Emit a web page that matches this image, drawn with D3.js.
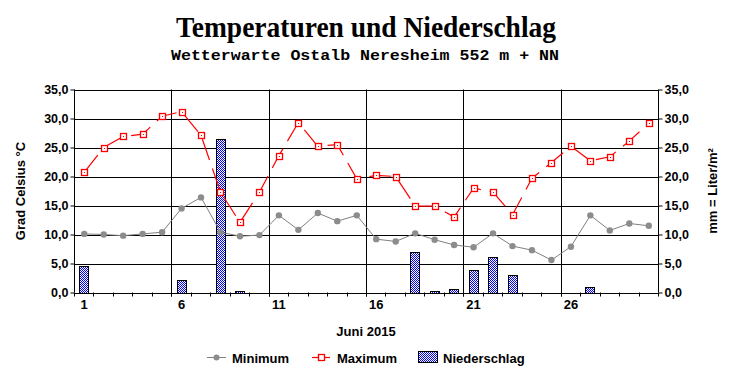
<!DOCTYPE html>
<html><head><meta charset="utf-8">
<script src="https://cdn.jsdelivr.net/npm/d3@7"></script>
<style>body{margin:0;background:#fff}svg{display:block}</style>
</head><body><div id="c"></div>
<script>
const days = d3.range(1, 31);
const dayLabels = [1, 6, 11, 16, 21, 26];
const tempMin = [10.1,10.0,9.8,10.1,10.4,14.5,16.4,10.4,9.7,9.9,13.3,10.8,13.7,12.3,13.3,9.2,8.8,10.2,9.1,8.2,7.8,10.2,8.0,7.3,5.6,7.9,13.3,10.7,11.9,11.5];
const tempMax = [20.7,25.0,26.9,27.3,30.4,31.2,27.1,17.3,12.1,17.3,23.6,29.3,25.2,25.5,19.6,20.2,20.0,14.9,14.9,13.0,18.0,17.3,13.4,19.7,22.4,25.2,22.7,23.4,26.1,29.2];
const precip = [4.6,0,0,0,0,2.2,0,26.4,0.2,0,0,0,0,0,0,0,0,7.0,0.3,0.6,3.9,6.1,3.1,0,0,0,1.0,0,0,0];
const yTicks = [0,5,10,15,20,25,30,35];
const title = "Temperaturen und Niederschlag";
const subtitle = "Wetterwarte Ostalb Neresheim 552 m + NN";
const xTitle = "Juni 2015";
const yLeftTitle = "Grad Celsius °C";
const yRightTitle = "mm = Liter/m²";
const legendNames = ["Minimum", "Maximum", "Niederschlag"];

const W = 732, H = 380;
const L = 74.5, R = 658.5, T = 89.5, B = 292.5;
const svg = d3.select("#c").append("svg").attr("width", W).attr("height", H);
const font = "'Liberation Sans', Arial, sans-serif";

const defs = svg.append("defs");
const pat = defs.append("pattern").attr("id","dots").attr("patternUnits","userSpaceOnUse")
  .attr("x",0).attr("y",0).attr("width",2).attr("height",2);
pat.append("rect").attr("width",2).attr("height",2).attr("fill","#ffffff").attr("shape-rendering","crispEdges");
pat.append("rect").attr("x",0).attr("y",0).attr("width",1).attr("height",1).attr("fill","#0000ff").attr("shape-rendering","crispEdges");
pat.append("rect").attr("x",1).attr("y",1).attr("width",1).attr("height",1).attr("fill","#0000ff").attr("shape-rendering","crispEdges");

const x = d3.scaleBand().domain(days).range([L, R]);
const bw = x.bandwidth();
const cx = d => x(d) + bw / 2;
const y = d3.scaleLinear().domain([0, 35]).range([B, T]);
const yR = d3.scaleLinear().domain([0, 35]).range([B, T]);

// titles
svg.append("text").attr("x", 366).attr("y", 37).attr("text-anchor","middle")
  .attr("font-family","'Liberation Serif', 'Times New Roman', serif").attr("font-weight","bold")
  .attr("font-size", 30).attr("textLength", 380).attr("lengthAdjust","spacingAndGlyphs").text(title);
svg.append("text").attr("x", 365).attr("y", 60).attr("text-anchor","middle")
  .attr("font-family","'Liberation Mono', 'Courier New', monospace").attr("font-weight","bold")
  .attr("font-size", 15).attr("textLength", 388).attr("lengthAdjust","spacingAndGlyphs").text(subtitle);

// horizontal grid
svg.append("g").selectAll("line").data(yTicks).join("line")
  .attr("x1", L).attr("x2", R).attr("y1", d => Math.round(y(d)) + 0.5).attr("y2", d => Math.round(y(d)) + 0.5)
  .attr("stroke","#000").attr("stroke-width",1);

// bottom ticks at category boundaries
const bounds = d3.range(0, 31);
svg.append("g").selectAll("line").data(bounds).join("line")
  .attr("x1", i => Math.floor(L + i * bw) + 0.5).attr("x2", i => Math.floor(L + i * bw) + 0.5)
  .attr("y1", B).attr("y2", B + 4).attr("stroke","#000");

// vertical grid lines before label days
svg.append("g").selectAll("line").data(dayLabels.slice(1)).join("line")
  .attr("x1", d => Math.floor(x(d)) + 0.5).attr("x2", d => Math.floor(x(d)) + 0.5)
  .attr("y1", T).attr("y2", B + 4).attr("stroke","#000");

// frame
svg.append("line").attr("x1",L).attr("x2",L).attr("y1",T).attr("y2",B).attr("stroke","#000");
svg.append("line").attr("x1",R).attr("x2",R).attr("y1",T).attr("y2",B).attr("stroke","#000");

// axes
const fmt = d => d3.format(".1f")(d).replace(".", ",");
const axL = svg.append("g").attr("transform", `translate(${L},0)`)
  .call(d3.axisLeft(y).tickValues(yTicks).tickFormat(fmt).tickSize(4).tickSizeOuter(0).tickPadding(2));
const axR = svg.append("g").attr("transform", `translate(${R},0)`)
  .call(d3.axisRight(yR).tickValues(yTicks).tickFormat(fmt).tickSize(4).tickSizeOuter(0).tickPadding(2));
[axL, axR].forEach(a => {
  a.select(".domain").remove();
  a.selectAll("text").attr("font-family", font).attr("font-weight","bold").attr("font-size", 12.5).attr("fill","#000");
  a.selectAll(".tick line").attr("stroke","#000");
});

// x labels
svg.append("g").selectAll("text").data(dayLabels).join("text")
  .attr("x", d => cx(d)).attr("y", 309).attr("text-anchor","middle")
  .attr("font-family", font).attr("font-weight","bold").attr("font-size", 13).text(d => d);

svg.append("text").attr("x", 366).attr("y", 336).attr("text-anchor","middle")
  .attr("font-family", font).attr("font-weight","bold").attr("font-size", 13).text(xTitle);

svg.append("text").attr("transform","translate(25,191) rotate(-90)").attr("text-anchor","middle")
  .attr("font-family", font).attr("font-weight","bold").attr("font-size", 13).text(yLeftTitle);
svg.append("text").attr("transform","translate(717,191) rotate(-90)").attr("text-anchor","middle")
  .attr("font-family", font).attr("font-weight","bold").attr("font-size", 13).text(yRightTitle);

// bars
const barW = bw * 0.5;
svg.append("g").selectAll("rect").data(days.filter((d,i) => precip[i] > 0)).join("rect")
  .attr("x", d => Math.round(cx(d) - barW / 2) + 0.5)
  .attr("y", d => Math.round(yR(precip[d-1])) + 0.5)
  .attr("width", Math.round(barW) - 1)
  .attr("height", d => Math.max(0, Math.round(B) - Math.round(yR(precip[d-1]))))
  .attr("fill","url(#dots)").attr("stroke","#000").attr("stroke-width",1);

// min line
const line = d3.line().x((v,i) => cx(days[i])).y(v => y(v));
svg.append("path").attr("d", line(tempMin)).attr("fill","none").attr("stroke","#808080").attr("stroke-width",1);
svg.append("g").selectAll("circle").data(tempMin).join("circle")
  .attr("cx", (v,i) => cx(days[i])).attr("cy", v => y(v)).attr("r", 3.2).attr("fill","#8c8c8c");

// max line
svg.append("path").attr("d", line(tempMax)).attr("fill","none").attr("stroke","#ff0000").attr("stroke-width",1.2)
  .attr("stroke-dasharray","22,9");
const sq = svg.append("g").selectAll("g").data(tempMax).join("g")
  .attr("transform", (v,i) => `translate(${Math.round(cx(days[i]))},${Math.round(y(v))})`);
sq.append("rect").attr("x",-2.5).attr("y",-2.5).attr("width",6).attr("height",6)
  .attr("fill","#fff").attr("stroke","#ff0000").attr("stroke-width",1.3);
sq.append("rect").attr("x",0).attr("y",0).attr("width",1).attr("height",1).attr("fill","#ff0000");

// legend
const lg = svg.append("g");
lg.append("line").attr("x1",207).attr("x2",226).attr("y1",357.5).attr("y2",357.5).attr("stroke","#808080");
lg.append("circle").attr("cx",216.5).attr("cy",357.5).attr("r",3).attr("fill","#8c8c8c");
lg.append("text").attr("x",232).attr("y",363).text(legendNames[0]);
lg.append("line").attr("x1",312).attr("x2",330).attr("y1",357.5).attr("y2",357.5).attr("stroke","#ff0000").attr("stroke-width",1.2);
lg.append("rect").attr("x",318.5).attr("y",354.5).attr("width",6).attr("height",6).attr("fill","#fff").attr("stroke","#ff0000").attr("stroke-width",1.3);
lg.append("text").attr("x",337).attr("y",363).text(legendNames[1]);
lg.append("rect").attr("x",418.5).attr("y",351.5).attr("width",19).attr("height",11).attr("fill","url(#dots)").attr("stroke","#000");
lg.append("text").attr("x",443).attr("y",363).text(legendNames[2]);
lg.selectAll("text").attr("font-family", font).attr("font-weight","bold").attr("font-size", 13);
</script></body></html>
